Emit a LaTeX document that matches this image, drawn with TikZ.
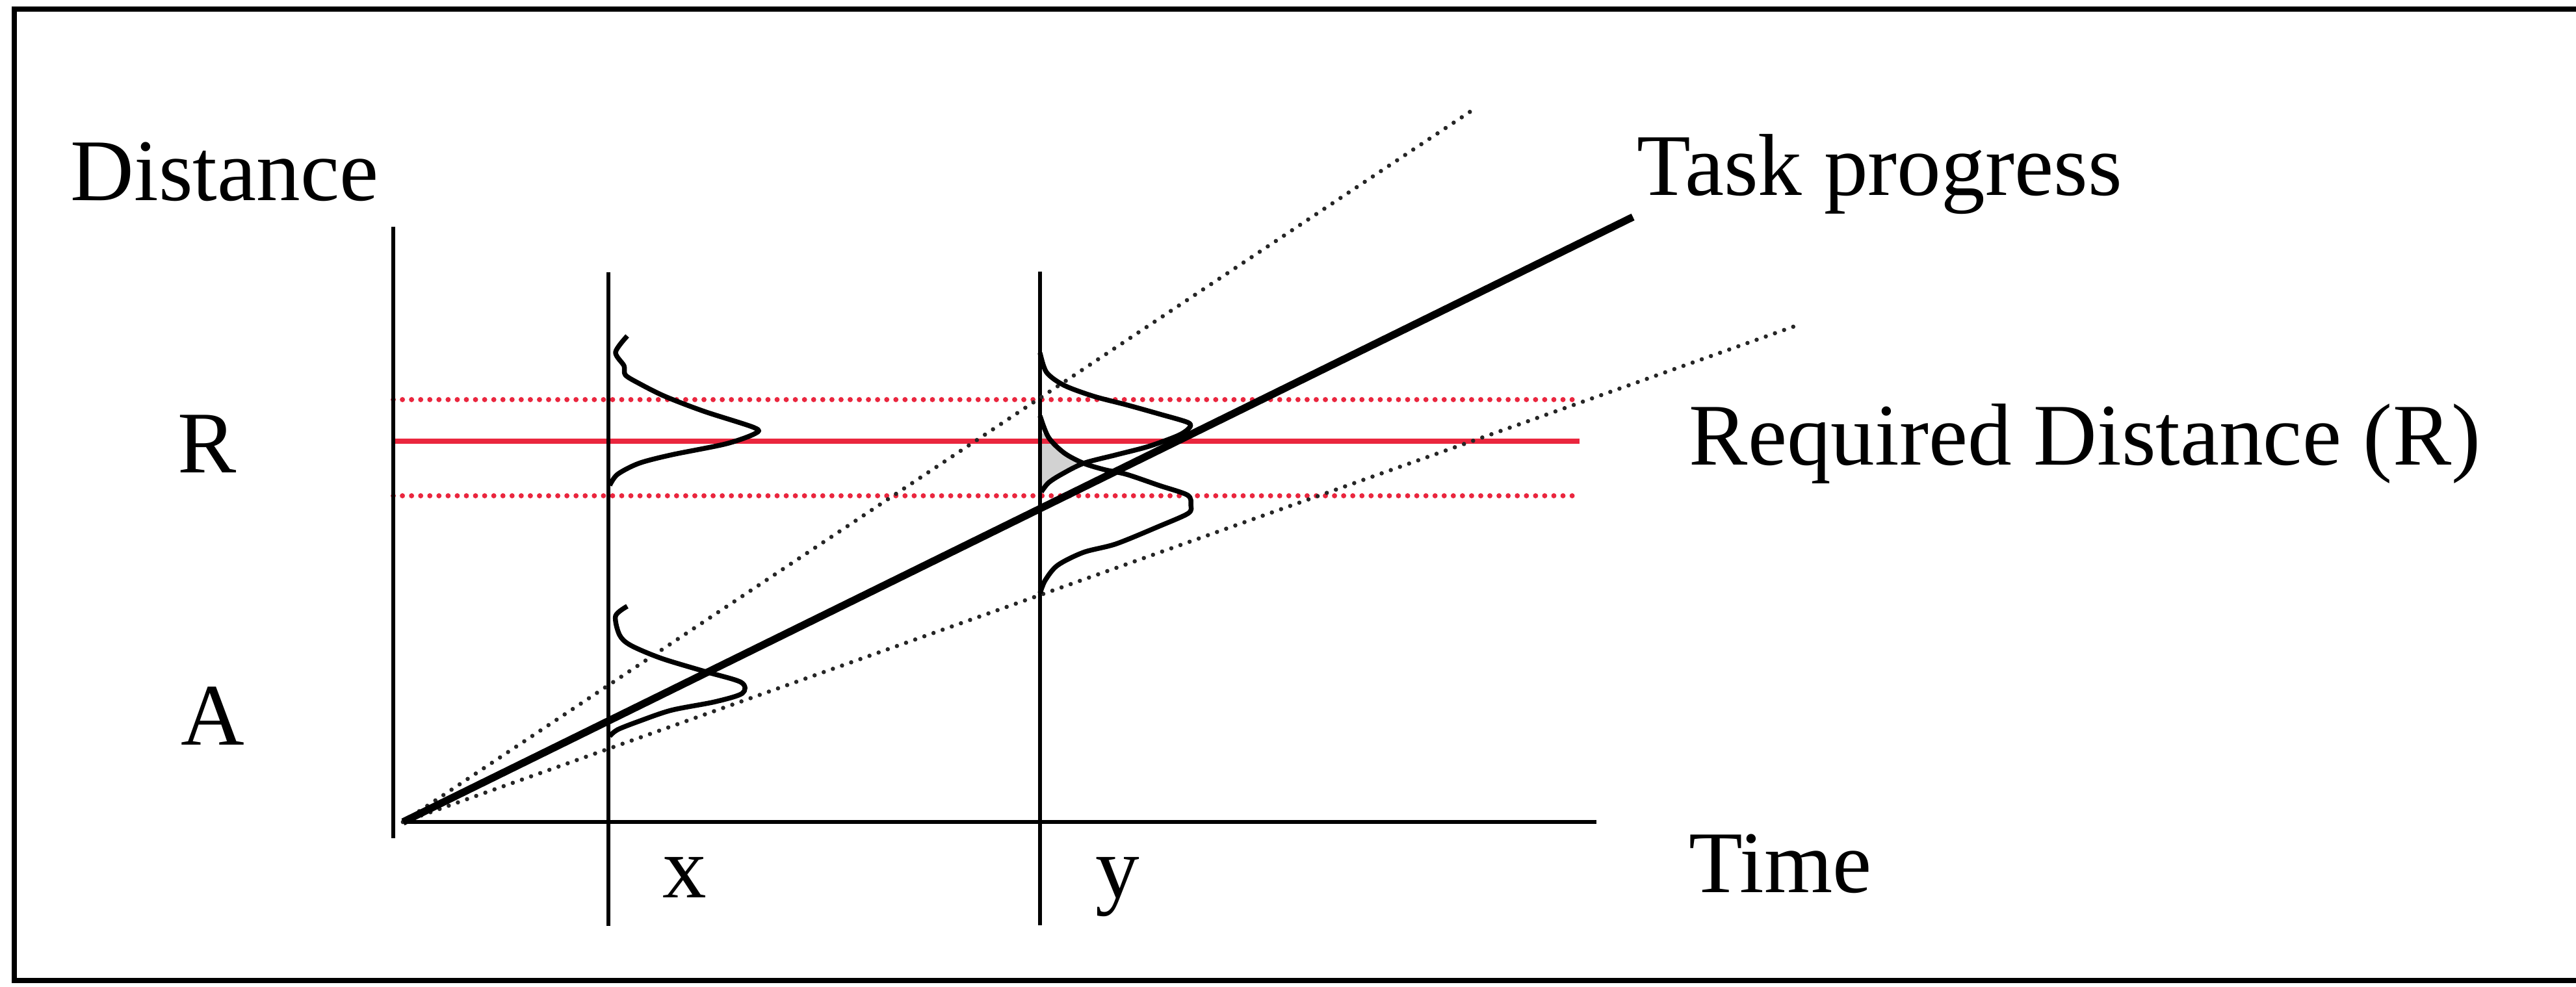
\documentclass[tikz,border=0pt]{standalone}
\usepackage{fontspec}
\setmainfont{Liberation Serif}
\definecolor{reqred}{RGB}{234,38,62}

\begin{document}
\begin{tikzpicture}[scale=0.4,
    lbl/.style={inner sep=0pt, anchor=base west, font=\fontsize{15.4}{18}\selectfont},
    axisline/.style={black, line width=0.75pt},
    bound/.style={black!85, line width=0.75pt, line cap=round, dash pattern=on 0pt off 1.7pt},
    reqline/.style={reqred, line width=0.9pt},
    reqband/.style={reqred, line width=0.9pt, line cap=round, dash pattern=on 0pt off 1.6pt},
    distcurve/.style={black, line width=0.85pt, line join=round}]
    \useasboundingbox (0,0) rectangle (39.63,15.18);
    \draw[line width=0.9pt] (40,15.04) -- (0.22,15.04) -- (0.22,0.09) -- (40,0.09);

    \coordinate (O) at (6.2,2.53);
    \coordinate (yTop) at (6.05,11.69);
    \coordinate (yBot) at (6.05,2.28);
    \coordinate (tEnd) at (24.56,2.53);
    \coordinate (xTop) at (9.36,10.99);
    \coordinate (xBot) at (9.36,0.93);
    \coordinate (yyTop) at (16.00,11.00);
    \coordinate (yyBot) at (16.00,0.94);
    \coordinate (progEnd) at (25.12,11.84);
    \coordinate (fastEnd) at (22.63,13.47);
    \coordinate (slowEnd) at (27.61,10.16);
    \coordinate (rHiL) at (6.05,9.03);
    \coordinate (rHiR) at (24.30,9.03);
    \coordinate (rL) at (6.05,8.39);
    \coordinate (rR) at (24.30,8.39);
    \coordinate (rLoL) at (6.05,7.55);
    \coordinate (rLoR) at (24.30,7.55);

    \fill[gray!35] plot[smooth] coordinates {(16.00,8.53) (16.13,8.45) (16.37,8.21) (16.67,8.05) (16.33,7.88) (16.13,7.75) (16.02,7.61)} -- cycle;

    \draw[reqband] (rHiL) -- (rHiR);
    \draw[reqline] (rL) -- (rR);
    \draw[reqband] (rLoL) -- (rLoR);

    \draw[axisline] (yTop) -- (yBot);
    \draw[axisline] (O) -- (tEnd);
    \draw[axisline] (xTop) -- (xBot);
    \draw[axisline] (yyTop) -- (yyBot);

    \draw[bound] (O) -- (fastEnd);
    \draw[bound] (O) -- (slowEnd);
    \draw[black, line width=1.3pt] (O) -- (progEnd);

    \draw[distcurve] plot[smooth, tension=0.5] coordinates {(9.65,10.01) (9.47,9.76) (9.60,9.55) (9.62,9.41) (9.83,9.28) (10.23,9.08) (10.83,8.85) (11.60,8.60) (11.62,8.51) (11.17,8.35) (10.33,8.18) (9.83,8.05) (9.50,7.88) (9.38,7.71)};
    \draw[distcurve] plot[smooth, tension=0.5] coordinates {(9.65,5.85) (9.47,5.70) (9.53,5.41) (9.70,5.25) (10.17,5.05) (10.83,4.85) (11.40,4.68) (11.42,4.51) (11.00,4.38) (10.33,4.25) (9.83,4.08) (9.50,3.95) (9.38,3.85)};
    \draw[distcurve] plot[smooth, tension=0.5] coordinates {(16.00,9.75) (16.10,9.45) (16.37,9.25) (16.83,9.08) (17.33,8.95) (17.83,8.81) (18.27,8.68) (18.30,8.60) (18.13,8.48) (17.67,8.31) (17.17,8.18) (16.67,8.05) (16.33,7.88) (16.13,7.75) (16.02,7.61)};
    \draw[distcurve] plot[smooth, tension=0.5] coordinates {(16.00,8.78) (16.13,8.45) (16.37,8.21) (16.67,8.05) (17.00,7.95) (17.33,7.88) (17.83,7.71) (18.27,7.56) (18.32,7.41) (18.28,7.28) (17.83,7.08) (17.17,6.81) (16.67,6.68) (16.27,6.48) (16.08,6.25) (16.00,6.05)};

    \node[lbl] (distance) at (1.07,12.10) {Distance};
    \node[lbl] (rlabel) at (2.72,7.91) {R};
    \node[lbl] (alabel) at (2.77,3.72) {A};
    \node[lbl] (xlabel) at (10.18,1.37) {x};
    \node[lbl] (ylabel) at (16.84,1.37) {y};
    \node[lbl] (time) at (25.97,1.45) {Time};
    \node[lbl] (progress) at (25.17,12.18) {Task progress};
    \node[lbl] (required) at (25.97,8.03) {Required Distance (R)};
\end{tikzpicture}
\end{document}
